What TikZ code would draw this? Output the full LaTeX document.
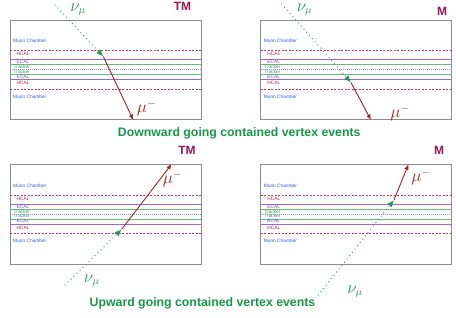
\documentclass[tikz,border=0pt]{standalone}
\usepackage{fontspec}
\setsansfont{Liberation Sans}
\usetikzlibrary{arrows.meta}
\definecolor{captiongreen}{RGB}{25,150,75}
\definecolor{nugreen}{RGB}{40,150,90}
\definecolor{tmmag}{RGB}{145,25,85}
\definecolor{mured}{RGB}{160,35,35}
\definecolor{mcblue}{RGB}{50,90,230}
\definecolor{hcalc}{RGB}{185,60,95}
\definecolor{ecalc}{RGB}{150,110,200}
\definecolor{trkc}{RGB}{110,180,130}
\definecolor{midc}{RGB}{130,150,230}
\definecolor{hcaltext}{RGB}{160,40,70}
\definecolor{ecaltext}{RGB}{120,70,170}
\definecolor{trktext}{RGB}{60,150,90}
\newcommand\drawdetector[3]{%
\begin{scope}[shift={(#2,#3)}, name prefix=#1-]
  \draw[frame] (0,0) rectangle (191,99.5);
  \draw[hcalline] (0,30.5) -- (191,30.5);
  \draw[ecalline] (0,39.5) -- (191,39.5);
  \draw[trkline] (0,44.5) -- (191,44.5);
  \draw[midline] (0,49.5) -- (191,49.5);
  \draw[trkline] (0,54.5) -- (191,54.5);
  \draw[ecalline] (0,59.7) -- (191,59.7);
  \draw[hcalline] (0,69) -- (191,69);
  \node[tiny, text=mcblue] (mc1) at (3,21) {Muon Chamber};
  \node[tiny, text=hcaltext] (h1) at (6.5,34.3) {HCAL};
  \node[tiny, text=ecaltext] (e1) at (6.5,42) {ECAL};
  \node[tiny, text=trktext] (t1) at (3.5,47) {Tracker};
  \node[tiny, text=trktext] (t2) at (3.5,51.7) {Tracker};
  \node[tiny, text=ecaltext] (e2) at (6.5,56.7) {ECAL};
  \node[tiny, text=hcaltext] (h2) at (6.5,63.3) {HCAL};
  \node[tiny, text=mcblue] (mc2) at (3,76.7) {Muon Chamber};
\end{scope}}
\begin{document}
\begin{tikzpicture}[x=1pt,y=-1pt,
  frame/.style={draw=black!45, line width=0.9pt},
  hcalline/.style={draw=hcalc, line width=0.8pt, dash pattern=on 2pt off 1.5pt},
  ecalline/.style={draw=ecalc, line width=0.9pt},
  trkline/.style={draw=trkc, line width=0.9pt},
  midline/.style={draw=midc, line width=0.8pt, dash pattern=on 1pt off 1pt},
  tiny/.style={anchor=west, inner sep=0pt, font=\sffamily\fontsize{4.8}{5}\selectfont},
  nuline/.style={draw=nugreen, line width=1.3pt, line cap=round, dash pattern=on 0pt off 4.2pt,
     -{Latex[length=7pt,width=6pt]}},
  muline/.style={draw=mured, line width=0.9pt, -{Latex[length=5.5pt,width=4.5pt]}},
  nulab/.style={text=nugreen, inner sep=0pt, font=\fontsize{16}{16}\selectfont},
  mulab/.style={text=mured, inner sep=0pt, font=\fontsize{16}{16}\selectfont},
  tag/.style={text=tmmag, inner sep=0pt, font=\sffamily\bfseries\fontsize{12}{12}\selectfont},
  caption/.style={text=captiongreen, inner sep=0pt, font=\sffamily\bfseries\fontsize{12.3}{13}\selectfont}]
\useasboundingbox (0,0) rectangle (456,318);

\drawdetector{A}{10}{20}
\drawdetector{B}{260.7}{20}
\drawdetector{C}{10}{164.5}
\drawdetector{D}{260.7}{164.5}

% top-left: downward, TM
\coordinate (nuA) at (55,5);
\coordinate (vA) at (103.3,56.5);
\coordinate (muA) at (133.3,120);
\draw[nuline] (nuA) -- (vA);
\draw[muline] (vA) -- (muA);
\node[nulab] (nulA) at (78,10) {$\nu_\mu$};
\node[mulab] (mulA) at (146.5,108) {$\mu^-$};
\node[tag] (tagA) at (182.5,6.5) {TM};

% top-right: downward, M
\coordinate (nuB) at (281.7,4);
\coordinate (vB) at (351,82.5);
\coordinate (muB) at (371,120);
\draw[nuline] (nuB) -- (vB);
\draw[muline] (vB) -- (muB);
\node[nulab] (nulB) at (304.5,10) {$\nu_\mu$};
\node[mulab] (mulB) at (400,113) {$\mu^-$};
\node[tag] (tagB) at (442,11) {M};

\node[caption] (capD) at (239.2,133) {Downward going contained vertex events};

% bottom-left: upward, TM
\coordinate (nuC) at (65,285);
\coordinate (vC) at (121.7,229.3);
\coordinate (muC) at (171.7,164);
\draw[nuline] (nuC) -- (vC);
\draw[muline] (vC) -- (muC);
\node[nulab] (nulC) at (91.7,281) {$\nu_\mu$};
\node[mulab] (mulC) at (172.5,179) {$\mu^-$};
\node[tag] (tagC) at (187,150) {TM};

% bottom-right: upward, M
\coordinate (nuD) at (318.3,295);
\coordinate (vD) at (394,200);
\coordinate (muD) at (408.5,164.3);
\draw[nuline] (nuD) -- (vD);
\draw[muline] (vD) -- (muD);
\node[nulab] (nulD) at (355,291.7) {$\nu_\mu$};
\node[mulab] (mulD) at (421,176.7) {$\mu^-$};
\node[tag] (tagD) at (439,150) {M};

\node[caption] (capU) at (202.5,303.7) {Upward going contained vertex events};
\end{tikzpicture}
\end{document}
